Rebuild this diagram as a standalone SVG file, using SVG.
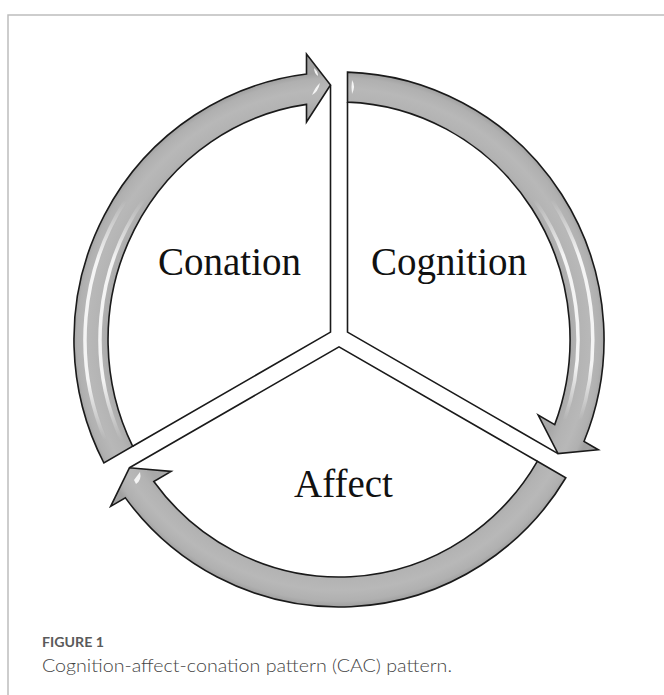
<svg xmlns="http://www.w3.org/2000/svg" width="664" height="695" viewBox="0 0 664 695">
<defs>
<radialGradient id="ringFill" gradientUnits="userSpaceOnUse" cx="339" cy="339.5" r="267">
<stop offset="0" stop-color="#b4b4b4"/>
<stop offset="0.86" stop-color="#a8a8a8"/>
<stop offset="0.895" stop-color="#b3b3b3"/>
<stop offset="0.94" stop-color="#b8b8b8"/>
<stop offset="0.98" stop-color="#b0b0b0"/>
<stop offset="1" stop-color="#a0a0a0"/>
</radialGradient>
<linearGradient id="stripe" x1="0" y1="0" x2="0" y2="1">
<stop offset="0" stop-color="#ffffff" stop-opacity="0"/>
<stop offset="0.25" stop-color="#ffffff" stop-opacity="0.85"/>
<stop offset="0.75" stop-color="#ffffff" stop-opacity="0.85"/>
<stop offset="1" stop-color="#ffffff" stop-opacity="0"/>
</linearGradient>
<style>
.arrow{fill:url(#ringFill);stroke:#1a1a1a;stroke-width:1.6;stroke-linejoin:miter}
.sep{fill:none;stroke:#1a1a1a;stroke-width:1.6}
.hl{fill:none;stroke:url(#stripe);stroke-width:3.5}
.glint{fill:#ffffff;opacity:0.85}
.lbl{font-family:"Liberation Serif","Times New Roman",serif;font-size:39px;fill:#111}
.frame{stroke:#bdbdbd;stroke-width:1.5;fill:none}
</style>
</defs>
<rect width="664" height="695" fill="#ffffff"/>
<path class="frame" d="M 664 15 L 8 15 L 8 695"/>
<g id="connectors">
<path class="sep" d="M 330.5 85 L 330.5 332.1 L 132.7 446.3"/>
<path class="sep" d="M 347.5 102.1 L 347.5 332.1 L 558 453.6"/>
<path class="sep" d="M 129.4 467.8 L 339 346.8 L 537.3 461.3"/>
</g>
<g id="cognition">
<path class="arrow" d="M 347.5 72.1 A 265 267.5 0 0 1 584 441.5 L 598.3 449.75 L 558 453.6 L 538.2 415.1 L 554.7 424.6 A 231 237.5 0 0 0 347.5 102.1 Z"/>
<path class="hl" d="M 552 200 A 254 257 0 0 1 580 420"/>
<path class="hl" d="M 534.7 200 A 239 243 0 0 1 564.5 420"/>
<path class="glint" d="M 352 80 Q 356 86 352 94 Q 351 87 352 80 Z"/>
<text class="lbl" x="371" y="275">Cognition</text>
</g>
<g id="affect">
<path class="arrow" d="M 537.3 461.3 L 565.8 477.75 A 265 267.5 0 0 1 125.4 497.85 L 110.7 506.35 L 129.4 467.8 L 171.1 471.45 L 153.8 481.45 A 231 237.5 0 0 0 537.3 461.3 Z"/>
<path class="glint" d="M 134 480 L 140 472 Q 142 480 136 484 Z"/>
<text class="lbl" x="294" y="497">Affect</text>
</g>
<g id="conation">
<path class="arrow" d="M 103.9 463 A 265 267.5 0 0 1 306.5 74 L 306.5 54 L 330.5 85 L 306.5 122 L 306.5 104.4 A 231 237.5 0 0 0 132.7 446.3 Z"/>
<path class="hl" d="M 105.2 440 A 254 257 0 0 1 125.7 200"/>
<path class="hl" d="M 121.4 440 A 239 243 0 0 1 143.3 200"/>
<path class="glint" d="M 312 95 Q 316 86 320 83 Q 318 92 312 95 Z"/>
<path class="glint" d="M 314 68 Q 318 71 318 76 Q 314 73 314 68 Z"/>
<text class="lbl" x="158" y="275">Conation</text>
</g>
<g id="caption">
<text x="42" y="647" font-family="Lato,'Open Sans',sans-serif" font-weight="700" font-size="14" fill="#5a5a5a" textLength="62" lengthAdjust="spacingAndGlyphs">FIGURE 1</text>
<text x="42" y="672" font-family="Lato,'Open Sans',sans-serif" font-weight="300" font-size="18" fill="#444444" textLength="410" lengthAdjust="spacingAndGlyphs">Cognition-affect-conation pattern (CAC) pattern.</text>
</g>
</svg>
